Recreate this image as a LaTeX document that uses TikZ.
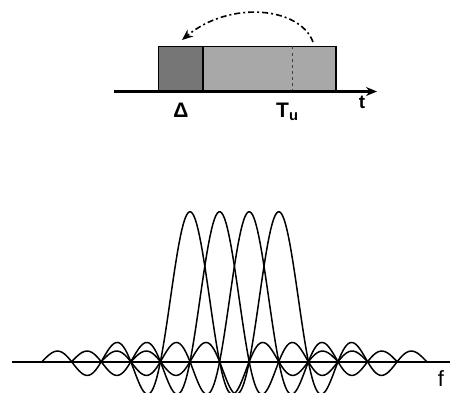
\documentclass[tikz,border=0pt]{standalone}
\usepackage{fontspec}
\setmainfont{Liberation Sans}
\usetikzlibrary{arrows.meta}
\definecolor{guard}{RGB}{118,118,118}
\definecolor{symbol}{RGB}{168,168,168}

\begin{document}
\begin{tikzpicture}[x=1pt,y=1pt,slot/.style={draw,line width=1.3pt},axis/.style={line width=2.4pt},lbl/.style={font=\fontsize{21}{24}\selectfont\bfseries,inner sep=0pt},wave/.style={line width=1.5pt,line join=round}]
\useasboundingbox (0,0) rectangle (450,392);
\clip (0,0) rectangle (450,392);
\coordinate (T0) at (114,300.5);
\coordinate (T1) at (377,300.5);
\coordinate (G0) at (158.5,300.5);
\coordinate (G1) at (203,345.5);
\coordinate (U1) at (336,345.5);
\coordinate (D0) at (292,300.5);
\coordinate (D1) at (292,345.5);
\coordinate (R0) at (313,350);
\coordinate (R1) at (182,352);
\coordinate (F0) at (12,30.3);
\coordinate (F1) at (450,30.3);
\filldraw[slot,fill=guard] (G0) rectangle (G1);
\filldraw[slot,fill=symbol] (G1 |- G0) rectangle (U1);
\draw[dashed,line width=1pt,black!75] (D0) -- (D1);
\draw[axis,-{Stealth[length=11pt,width=9pt]}] (T0) -- (T1);
\draw[line width=1.6pt,dash pattern=on 6pt off 3pt on 2pt off 3pt,-{Stealth[length=11pt,width=9pt]}] (R0) .. controls (300,385) and (230,392) .. (R1);
\node[lbl,anchor=north] (delta) at (181,289) {Δ};
\node[lbl,anchor=north west] (tu) at (276,289) {T\textsubscript{u}};
\node[lbl,font=\fontsize{19}{22}\selectfont\bfseries,anchor=north] (tl) at (362,296) {t};
\foreach \c in {190,219.6,249.2,278.8}
  \draw[wave] plot[domain=-5:5,samples=200] ({\c+29.6*\x},{30.3+150*sin(180*\x)/(pi*\x)});
\draw[line width=1.7pt] (F0) -- (F1);
\node[font=\fontsize{22}{24}\selectfont,anchor=north,inner sep=0pt] (fl) at (441,22) {f};
\end{tikzpicture}
\end{document}
